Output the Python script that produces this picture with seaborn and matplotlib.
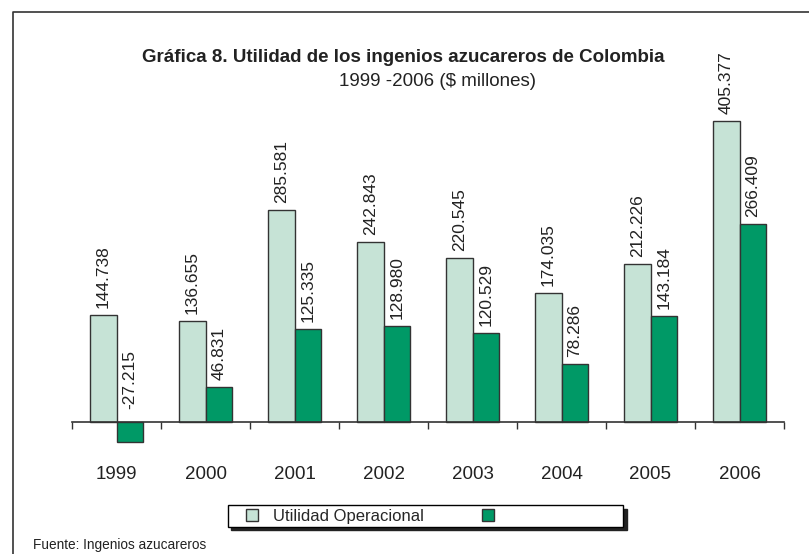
import numpy as np
import pandas as pd
import seaborn as sns
import matplotlib.pyplot as plt
from matplotlib.lines import Line2D

years = ["1999", "2000", "2001", "2002", "2003", "2004", "2005", "2006"]
operacional = [144.738, 136.655, 285.581, 242.843, 220.545, 174.035, 212.226, 405.377]
neta = [-27.215, 46.831, 125.335, 128.980, 120.529, 78.286, 143.184, 266.409]
series = ["Utilidad Operacional", "Utilidad Neta"]
legend_labels = ["Utilidad Operacional", " " * 24]
colors = ["#c6e3d6", "#009966"]


def main():
    df = pd.DataFrame({
        "year": years * 2,
        "valor": operacional + neta,
        "serie": [series[0]] * len(years) + [series[1]] * len(years),
    })

    sns.set_style("white")
    plt.rcParams["font.family"] = ["Liberation Sans", "DejaVu Sans"]

    fig = plt.figure(figsize=(8.09, 5.54), dpi=100)
    ax = fig.add_axes([72 / 809, 0.1713, 712 / 809, 0.6298])

    sns.barplot(data=df, x="year", y="valor", hue="serie", hue_order=series,
                palette=colors, saturation=1, width=0.6, edgecolor="#333333",
                linewidth=1, ax=ax, legend=False)

    # rotated value labels above each bar (or above zero for the negative one)
    for cont in ax.containers:
        for bar in cont:
            h = bar.get_height()
            y = max(h, 0)
            off = 5 if h >= 0 else 9
            ax.annotate(f"{h:.3f}", (bar.get_x() + bar.get_width() / 2, y),
                        xytext=(0, off), textcoords="offset points",
                        rotation=90, ha="center", va="bottom",
                        fontsize=12.5, color="#222222")

    ax.set_ylim(-50, 420)
    ax.set_xlim(-0.5, len(years) - 0.5)
    ax.set_xlabel("")
    ax.set_ylabel("")
    ax.set_yticks([])
    for s in ["left", "right", "top"]:
        ax.spines[s].set_visible(False)
    ax.spines["bottom"].set_position(("data", 0))
    ax.spines["bottom"].set_color("#333333")
    ax.spines["bottom"].set_linewidth(1.2)
    ax.set_xticks(np.arange(-0.5, len(years)), minor=True)
    ax.tick_params(axis="x", which="major", length=0, pad=32,
                   labelsize=13.5, labelcolor="#222222")
    ax.tick_params(axis="x", which="minor", length=5, width=1,
                   color="#333333", direction="out", bottom=True)

    handles = [Line2D([], [], marker="s", linestyle="none", markersize=9,
                      markerfacecolor=c, markeredgecolor="#333333",
                      markeredgewidth=1) for c in colors]
    fig.legend(handles, legend_labels, loc="center", ncol=2,
               bbox_to_anchor=(425.5 / 809, 1 - 516 / 554),
               fontsize=12, frameon=True, fancybox=False, framealpha=1,
               edgecolor="black", borderpad=0.2, handlelength=2.5,
               handletextpad=0.0, columnspacing=2.6,
               shadow={"color": "#222222", "alpha": 1, "ox": 2.5, "oy": -2.5})

    fig.text(403 / 809, 1 - 58 / 554,
             "Gráfica 8. Utilidad de los ingenios azucareros de Colombia",
             ha="center", va="center", fontsize=13.5, fontweight="bold",
             color="#222222")
    fig.text(437.5 / 809, 1 - 82 / 554, "1999 -2006 ($ millones)",
             ha="center", va="center", fontsize=13.5, color="#222222")
    fig.text(33 / 809, 1 - 545 / 554, "Fuente: Ingenios azucareros",
             ha="left", va="center", fontsize=9.8, color="#222222")

    # chart border (only top and left edges are visible in the frame)
    fig.add_artist(Line2D([13 / 809, 13 / 809, 1.0],
                          [0.0, 1 - 12 / 554, 1 - 12 / 554],
                          transform=fig.transFigure, color="#333333",
                          linewidth=1.2))

    fig.savefig("out.png", dpi=100)


if __name__ == "__main__":
    main()
